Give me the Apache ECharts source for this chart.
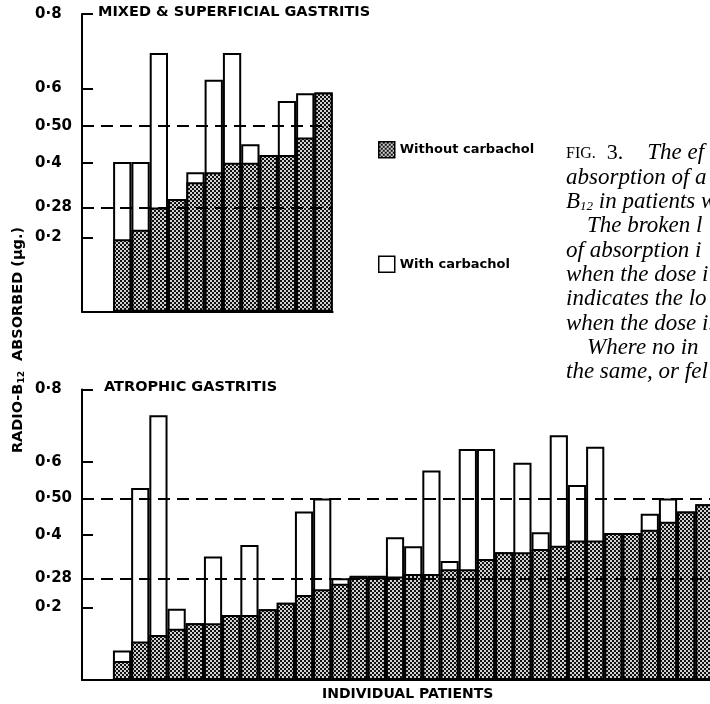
<!DOCTYPE html>
<html><head><meta charset="utf-8">
<script src="https://cdn.jsdelivr.net/npm/echarts@6/dist/echarts.min.js"></script>
<style>html,body{margin:0;padding:0;background:#fff}#c{width:710px;height:704px}</style>
</head><body><div id="c"></div>
<script>
// ---- data ----
const tickValues = [0.2, 0.28, 0.4, 0.5, 0.6, 0.8];
const tickLabels = ['0·2', '0·28', '0·4', '0·50', '0·6', '0·8'];
const refLines = [0.5, 0.28];
const seriesNames = ['Without carbachol', 'With carbachol'];
const panelTitles = ['MIXED & SUPERFICIAL GASTRITIS', 'ATROPHIC GASTRITIS'];
const xAxisTitle = 'INDIVIDUAL PATIENTS';

const mixedPatients = [1,2,3,4,5,6,7,8,9,10,11,12];
const mixedWithout = [0.195, 0.22, 0.28, 0.303, 0.348, 0.375, 0.40, 0.40, 0.421, 0.421, 0.468, 0.589];
const mixedWith    = [0.402, 0.402, 0.695, 0.303, 0.375, 0.623, 0.695, 0.45, 0.421, 0.566, 0.587, 0.589];

const atrophicPatients = [1,2,3,4,5,6,7,8,9,10,11,12,13,14,15,16,17,18,19,20,21,22,23,24,25,26,27,28,29,30,31,32,33];
const atrophicWithout = [0.052, 0.106, 0.124, 0.141, 0.156, 0.156, 0.179, 0.179, 0.195, 0.213, 0.234, 0.250, 0.265, 0.283, 0.283,
  0.285, 0.292, 0.292, 0.305, 0.305, 0.333, 0.352, 0.352, 0.361, 0.370, 0.384, 0.384, 0.405, 0.405, 0.414, 0.436, 0.464, 0.484];
const atrophicWith = [0.081, 0.529, 0.729, 0.196, 0.156, 0.340, 0.179, 0.372, 0.195, 0.213, 0.464, 0.50, 0.28, 0.287, 0.287,
  0.393, 0.368, 0.577, 0.328, 0.636, 0.636, 0.352, 0.598, 0.407, 0.674, 0.537, 0.642, 0.405, 0.405, 0.458, 0.50, 0.464, 0.484];

const captionLines = [
  '{sc|FIG.}{rm|3.}{it2|The ef}',
  '{it|absorption of a}',
  '{it|B}{sub|12}{it| in patients w}',
  '{ind|The broken l}',
  '{it|of absorption i}',
  '{it|when the dose i}',
  '{it|indicates the lo}',
  '{it|when the dose i.}',
  '{ind|Where no in}',
  '{it|the same, or fel}'
];
const yAxisTitle = 'RADIO-B{s|12}  ABSORBED (μg.)';

// ---- styling ----
const FONT = 'DejaVu Sans';
function makePattern() {
  const c = document.createElement('canvas');
  c.width = 4; c.height = 4;
  const g = c.getContext('2d');
  g.fillStyle = '#d2d2d2'; g.fillRect(0, 0, 4, 4);
  g.fillStyle = '#111'; g.fillRect(0, 0, 2, 2); g.fillRect(2, 2, 2, 2);
  return c;
}
const hatch = { image: makePattern(), repeat: 'repeat' };

function yAxisFor(gridIndex) {
  return {
    type: 'value', gridIndex, min: 0, max: 0.8,
    axisLine: { show: true, onZero: false, lineStyle: { color: '#000', width: 2 } },
    axisTick: { show: true, inside: true, length: 11, customValues: tickValues, lineStyle: { color: '#000', width: 2 } },
    axisLabel: {
      show: true, customValues: tickValues, align: 'left', margin: 47,
      color: '#000', fontFamily: FONT, fontWeight: 'bold', fontSize: 15,
      formatter: v => { const i = tickValues.findIndex(t => Math.abs(t - v) < 1e-6); return i >= 0 ? tickLabels[i] : ''; }
    },
    splitLine: { show: false }
  };
}
function xAxisFor(gridIndex, max) {
  return {
    type: 'value', gridIndex, min: -1.2, max,
    axisLine: { show: true, onZero: false, lineStyle: { color: '#000', width: 2 } },
    axisTick: { show: false }, axisLabel: { show: false }, splitLine: { show: false }
  };
}
function barPair(idx, xs, without, withC) {
  const common = { type: 'bar', xAxisIndex: idx, yAxisIndex: idx, barCategoryGap: '0%', barGap: '-100%', animation: false };
  return [
    Object.assign({}, common, {
      name: seriesNames[1], z: 2,
      data: xs.map((x, i) => [x, withC[i]]),
      itemStyle: { color: '#fff', borderColor: '#000', borderWidth: 2 }
    }),
    Object.assign({}, common, {
      name: seriesNames[0], z: 3,
      data: xs.map((x, i) => [x, without[i]]),
      itemStyle: { color: hatch, borderColor: '#000', borderWidth: 2 },
      markLine: {
        silent: true, symbol: 'none', z: 6, animation: false,
        label: { show: false },
        lineStyle: { color: '#000', width: 2, type: [12, 7] },
        data: refLines.map(v => ({ yAxis: v }))
      }
    })
  ];
}

const chart = echarts.init(document.getElementById('c'), null, { renderer: 'canvas' });
const SERIF = 'Liberation Serif';
const capStyle = {
  sc: { fontFamily: SERIF, fontSize: 16, fill: '#000' },
  rm: { fontFamily: SERIF, fontSize: 22, fill: '#000', padding: [0, 0, 0, 11] },
  it: { fontFamily: SERIF, fontStyle: 'italic', fontSize: 23, fill: '#000' },
  it2: { fontFamily: SERIF, fontStyle: 'italic', fontSize: 23, fill: '#000', padding: [0, 0, 0, 24] },
  ind: { fontFamily: SERIF, fontStyle: 'italic', fontSize: 23, fill: '#000', padding: [0, 0, 0, 21] },
  sub: { fontFamily: SERIF, fontStyle: 'italic', fontSize: 13, fill: '#000', verticalAlign: 'bottom', padding: [9, 0, 0, 0] }
};

chart.setOption({
  backgroundColor: '#fff',
  animation: false,
  grid: [
    { left: 82, top: 14, width: 250.7, height: 297.7, containLabel: false, outerBoundsMode: 'none' },
    { left: 82, top: 389.5, width: 640.6, height: 290.5, containLabel: false, outerBoundsMode: 'none' }
  ],
  xAxis: [xAxisFor(0, 12.5), xAxisFor(1, 34)],
  yAxis: [yAxisFor(0), yAxisFor(1)],
  title: [
    { text: panelTitles[0], left: 98, top: 5, padding: 0, textStyle: { fontFamily: FONT, fontWeight: 'bold', fontSize: 14.5, color: '#000' } },
    { text: panelTitles[1], left: 104, top: 380, padding: 0, textStyle: { fontFamily: FONT, fontWeight: 'bold', fontSize: 14.5, color: '#000' } },
    { text: xAxisTitle, left: 322, top: 687, padding: 0, textStyle: { fontFamily: FONT, fontWeight: 'bold', fontSize: 14, color: '#000' } }
  ],
  legend: {
    orient: 'vertical', left: 378, top: 141, padding: 0,
    itemWidth: 16, itemHeight: 16, itemGap: 97, icon: 'rect',
    data: seriesNames,
    selectedMode: false,
    itemStyle: { borderColor: '#000', borderWidth: 1.5 },
    textStyle: { fontFamily: FONT, fontWeight: 'bold', fontSize: 13, color: '#000' }
  },
  graphic: [
    {
      type: 'text', x: 18, y: 340, rotation: Math.PI / 2,
      style: {
        text: yAxisTitle, align: 'center', verticalAlign: 'middle',
        font: 'bold 14.5px "DejaVu Sans"', fill: '#000',
        rich: { s: { font: 'bold 9px "DejaVu Sans"', fill: '#000', verticalAlign: 'bottom', padding: [7, 0, 0, 0] } }
      }
    }
  ].concat(captionLines.map((t, i) => ({
    type: 'text', x: 566, y: 153.3 + i * 24.35,
    style: { text: t, verticalAlign: 'middle', align: 'left', rich: capStyle, font: 'italic 23px "Liberation Serif"', fill: '#000' }
  }))),
  series: [].concat(
    barPair(0, mixedPatients, mixedWithout, mixedWith),
    barPair(1, atrophicPatients, atrophicWithout, atrophicWith)
  )
});
</script>
</body></html>
